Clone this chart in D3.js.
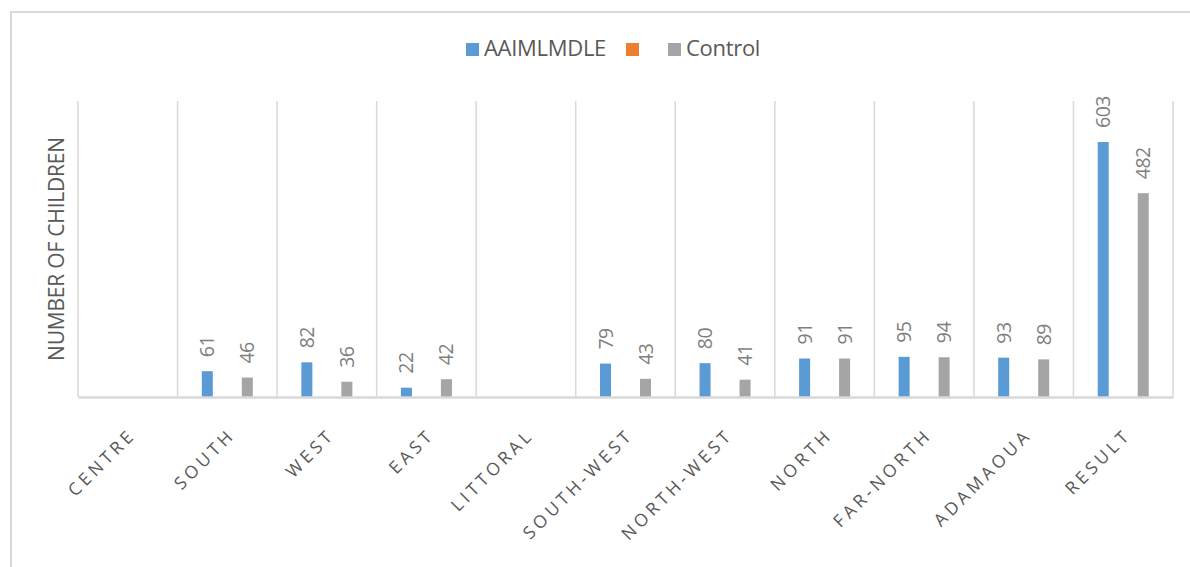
<!DOCTYPE html>
<html>
<head>
<meta charset="utf-8">
<script src="https://cdn.jsdelivr.net/npm/d3@7"></script>
<style>
  html, body { margin: 0; padding: 0; background: #fff; }
  svg { display: block; }
</style>
</head>
<body>
<div id="chart"></div>
<script>
const categories = ['CENTRE', 'SOUTH', 'WEST', 'EAST', 'LITTORAL', 'SOUTH-WEST', 'NORTH-WEST', 'NORTH', 'FAR-NORTH', 'ADAMAOUA', 'RESULT'];
const seriesNames = ['AAIMLMDLE', '', 'Control'];
const seriesColors = ['#5b9bd5', '#ed7d31', '#a5a5a5'];
const aaimlmdle = [null, 61, 82, 22, null, 79, 80, 91, 95, 93, 603];
const blank = [null, null, null, null, null, null, null, null, null, null, null];
const control = [null, 46, 36, 42, null, 43, 41, 91, 94, 89, 482];
const seriesValues = [aaimlmdle, blank, control];
const yMax = 700;

const W = 1190, H = 567;
const margin = { top: 101, right: 17, bottom: 170, left: 78 };
const innerW = W - margin.left - margin.right;
const innerH = H - margin.top - margin.bottom;
const font = 'Open Sans, Liberation Sans, sans-serif';

const svg = d3.select('#chart').append('svg')
  .attr('width', W).attr('height', H)
  .attr('viewBox', `0 0 ${W} ${H}`);

// outer chart frame (runs past the right and bottom edges)
svg.append('rect')
  .attr('x', 11).attr('y', 12).attr('width', W + 20).attr('height', H + 20)
  .attr('fill', 'none').attr('stroke', '#d9d9d9').attr('stroke-width', 2);

const g = svg.append('g').attr('transform', `translate(${margin.left},${margin.top})`);

const x0 = d3.scaleBand().domain(categories).range([0, innerW]).paddingInner(0).paddingOuter(0);
const x1 = d3.scaleBand().domain(d3.range(seriesNames.length))
  .range([x0.bandwidth() / 2 - 30, x0.bandwidth() / 2 + 30])
  .paddingInner(0.45).paddingOuter(0.225);
const y = d3.scaleLinear().domain([0, yMax]).range([innerH, 0]);

// vertical category gridlines
const gridX = categories.map((c) => x0(c)).concat([innerW]);
g.selectAll('line.grid').data(gridX).join('line')
  .attr('class', 'grid')
  .attr('x1', (d) => d).attr('x2', (d) => d)
  .attr('y1', 0).attr('y2', innerH)
  .attr('stroke', '#d9d9d9').attr('stroke-width', 1.5);

// bars
const barData = [];
seriesValues.forEach((vals, si) => {
  vals.forEach((v, ci) => {
    if (v != null) barData.push({ si, cat: categories[ci], v });
  });
});

g.selectAll('rect.bar').data(barData).join('rect')
  .attr('class', 'bar')
  .attr('x', (d) => x0(d.cat) + x1(d.si))
  .attr('width', x1.bandwidth())
  .attr('y', (d) => y(d.v))
  .attr('height', (d) => innerH - y(d.v))
  .attr('fill', (d) => seriesColors[d.si]);

// data labels (rotated)
g.selectAll('text.lbl').data(barData).join('text')
  .attr('class', 'lbl')
  .attr('transform', (d) => `translate(${x0(d.cat) + x1(d.si) + x1.bandwidth() / 2 + 7},${y(d.v) - 14}) rotate(-90)`)
  .attr('font-family', font)
  .attr('font-size', 19.5).attr('fill', '#7f7f7f')
  .attr('letter-spacing', '-0.5px')
  .text((d) => d.v);

// x axis baseline
const xAxisG = g.append('g').attr('transform', `translate(0,${innerH})`)
  .call(d3.axisBottom(x0).tickSize(0).tickPadding(0));
xAxisG.select('.domain').attr('stroke', '#d9d9d9').attr('stroke-width', 2.5);
xAxisG.selectAll('text')
  .attr('font-family', font)
  .attr('font-size', 17.5).attr('fill', '#595959')
  .attr('letter-spacing', '3.8px')
  .attr('text-anchor', 'end')
  .attr('dy', 0)
  .attr('transform', 'translate(9,39) rotate(-45)');

// y axis title
svg.append('text')
  .attr('transform', `translate(64,${margin.top + innerH / 2}) rotate(-90)`)
  .attr('text-anchor', 'middle')
  .attr('font-family', font)
  .attr('font-size', 21).attr('fill', '#595959')
  .attr('letter-spacing', '-0.2px')
  .text('NUMBER OF CHILDREN');

// legend
const legendX = [466, 626, 668];
const legend = svg.append('g');
seriesNames.forEach((name, i) => {
  legend.append('rect')
    .attr('x', legendX[i]).attr('y', 43).attr('width', 13).attr('height', 13)
    .attr('fill', seriesColors[i]);
  legend.append('text')
    .attr('x', legendX[i] + 18).attr('y', 56)
    .attr('font-family', font)
    .attr('font-size', 22).attr('fill', '#595959')
    .attr('letter-spacing', '-0.3px')
    .text(name);
});
</script>
</body>
</html>
